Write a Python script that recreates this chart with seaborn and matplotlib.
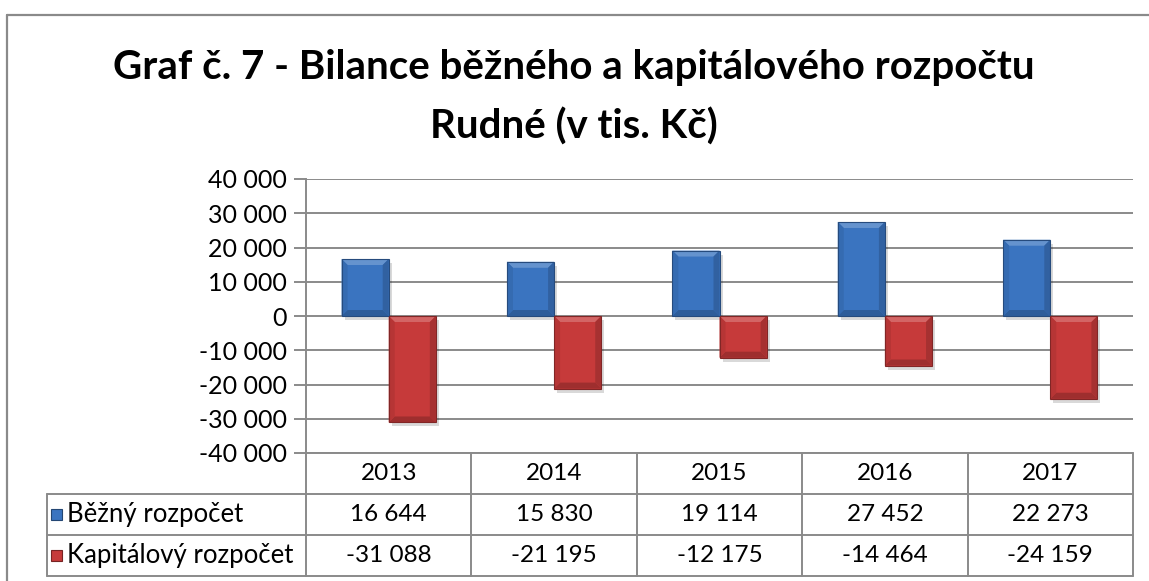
import numpy as np
import pandas as pd
import matplotlib
matplotlib.use("Agg")
import matplotlib.pyplot as plt
import seaborn as sns
from matplotlib.patches import Polygon, Rectangle
from matplotlib.ticker import FuncFormatter, MultipleLocator
from matplotlib.transforms import IdentityTransform
import matplotlib.colors as mcolors

# ---- data ----
years = ["2013", "2014", "2015", "2016", "2017"]
bezny = [16644, 15830, 19114, 27452, 22273]
kapitalovy = [-31088, -21195, -12175, -14464, -24159]
series_names = ["Běžný rozpočet", "Kapitálový rozpočet"]
title_lines = ["Graf č. 7 - Bilance běžného a kapitálového rozpočtu", "Rudné (v tis. Kč)"]
colors = ["#3A74C0", "#C63A3A"]

df = pd.DataFrame({
    "rok": years * 2,
    "hodnota": bezny + kapitalovy,
    "rada": [series_names[0]] * len(years) + [series_names[1]] * len(years),
})

sns.set_theme(style="white")
plt.rcParams['font.family'] = ['Lato', 'DejaVu Sans']
plt.rcParams['text.color'] = 'black'

W, H = 1149, 581
GRID = "#8a8a8a"
fig = plt.figure(figsize=(W / 100, H / 100), dpi=100)
fig.patch.set_facecolor("white")
bg = fig.add_axes([0, 0, 1, 1])
bg.set_xlim(0, W)
bg.set_ylim(H, 0)
bg.axis("off")

ax = fig.add_axes([306 / W, (H - 453) / H, (1133 - 306) / W, (453 - 179) / H])
ax.set_facecolor("none")
sns.barplot(data=df, x="rok", y="hodnota", hue="rada", palette=colors,
            width=0.57, saturation=1, ax=ax, legend=False, linewidth=0,
            zorder=3)
ax.set_xlim(-0.5, len(years) - 0.5)
ax.set_ylim(-40000, 40000)
ax.yaxis.set_major_locator(MultipleLocator(10000))
ax.yaxis.set_major_formatter(FuncFormatter(lambda v, p: f"{v:,.0f}".replace(",", " ")))
ax.set_axisbelow(True)
ax.grid(axis="y", color=GRID, linewidth=1.4)
ax.grid(axis="x", visible=False)
for s in ["top", "right", "bottom"]:
    ax.spines[s].set_visible(False)
ax.spines["left"].set_color(GRID)
ax.spines["left"].set_linewidth(1.4)
ax.set_xticks([])
ax.set_xlabel("")
ax.set_ylabel("")
ax.tick_params(axis="y", left=True, length=9, width=1.4, color=GRID,
               labelsize=18, pad=5, labelcolor="black")

# bevel / shadow decoration derived from seaborn's bars
def shade(c, f):
    r, g, b = mcolors.to_rgb(c)
    if f >= 1:
        return (r + (1 - r) * (f - 1), g + (1 - g) * (f - 1), b + (1 - b) * (f - 1))
    return (r * f, g * f, b * f)

fig.canvas.draw()
for p in list(ax.patches):
    bb = p.get_window_extent()
    x0, x1, yb, yt = bb.x0, bb.x1, bb.y0, bb.y1
    if bb.width <= 0 or bb.height <= 0:
        continue
    c = p.get_facecolor()
    b = 6
    shadow = Rectangle((x0 + 3, yb - 4), x1 - x0, yt - yb, transform=IdentityTransform(),
                       facecolor="black", alpha=0.15, edgecolor="none", zorder=2)
    ax.add_artist(shadow)
    polys = [
        ([(x0, yt), (x1, yt), (x1 - b, yt - b), (x0 + b, yt - b)], shade(c, 1.22)),
        ([(x0, yb), (x1, yb), (x1 - b, yb + b), (x0 + b, yb + b)], shade(c, 0.8)),
        ([(x0, yb), (x0, yt), (x0 + b, yt - b), (x0 + b, yb + b)], shade(c, 0.92)),
        ([(x1, yb), (x1, yt), (x1 - b, yt - b), (x1 - b, yb + b)], shade(c, 0.84)),
    ]
    for pts, col in polys:
        ax.add_artist(Polygon(pts, closed=True, transform=IdentityTransform(),
                              facecolor=col, edgecolor="none", zorder=4))
    ax.add_artist(Rectangle((x0, yb), x1 - x0, yt - yb, transform=IdentityTransform(),
                            facecolor="none", edgecolor=shade(c, 0.65), linewidth=0.8, zorder=5))

# ---- outer frame ----
bg.plot([7, W], [15, 15], color=GRID, lw=1.6)
bg.plot([7, 7], [15, H], color=GRID, lw=1.6)

# ---- title ----
bg.text(574, 68, title_lines[0], ha="center", va="center", fontsize=29,
        fontweight="bold", color="black")
bg.text(574, 127, title_lines[1], ha="center", va="center", fontsize=29,
        fontweight="bold", color="black")

# ---- data table ----
def px(xd):
    return ax.transData.transform((xd, 0))[0]

xs = [px(i - 0.5) for i in range(len(years) + 1)]
left = 47
r0, r1, r2, r3 = 453, 494, 535, 576
lw = 1.4
bg.plot([xs[0], xs[-1]], [r0, r0], color=GRID, lw=lw)
for yy in (r1, r2, r3):
    bg.plot([left, xs[-1]], [yy, yy], color=GRID, lw=lw)
bg.plot([left, left], [r1, r3], color=GRID, lw=lw)
for xx in xs:
    bg.plot([xx, xx], [r0, r3], color=GRID, lw=lw)

for i, yr in enumerate(years):
    cx = (xs[i] + xs[i + 1]) / 2
    bg.text(cx, (r0 + r1) / 2, yr, ha="center", va="center", fontsize=17.5, color="black")
    for vals, (ya, yb_) in ((bezny, (r1, r2)), (kapitalovy, (r2, r3))):
        bg.text(cx, (ya + yb_) / 2, f"{vals[i]:,}".replace(",", " "),
                ha="center", va="center", fontsize=17.5, color="black")

for k, (name, col, (ya, yb_)) in enumerate(zip(series_names, colors, ((r1, r2), (r2, r3)))):
    cy = (ya + yb_) / 2
    bg.add_patch(Rectangle((51, cy - 5.5), 11, 11, facecolor=col,
                           edgecolor=shade(col, 0.6), lw=0.8))
    bg.text(67, cy, name, ha="left", va="center", fontsize=18.5, color="black")

fig.savefig("out.png", dpi=100)
